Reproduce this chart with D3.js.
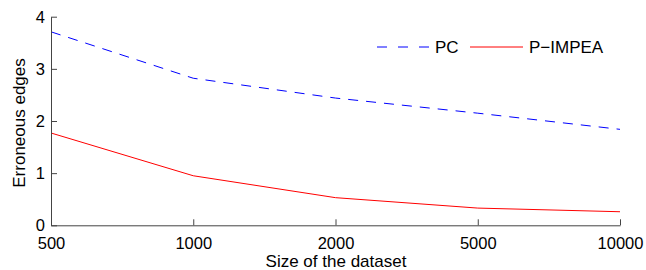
<!DOCTYPE html>
<html><head><meta charset="utf-8">
<script src="https://cdn.jsdelivr.net/npm/d3@7"></script>
<style>body{margin:0;background:#fff}svg{display:block}text{font-family:"Liberation Sans",Arial,sans-serif;fill:#000}</style>
</head><body><svg id="c" width="646" height="270"></svg>
<script>
const categories = ["500","1000","2000","5000","10000"];
const pcValues = [3.71, 2.82, 2.44, 2.15, 1.84];
const pimpeaValues = [1.77, 0.95, 0.53, 0.33, 0.26];
const yTicks = [0,1,2,3,4];
const seriesNames = ["PC","P\u2212IMPEA"];

const svg = d3.select("#c");
const m = {l:51, r:26, t:16.7, b:44.7};
const W = 646, H = 270;
const x = d3.scalePoint().domain(categories).range([m.l, W-m.r]);
const y = d3.scaleLinear().domain([0,4]).range([H-m.b, m.t]);
const axisColor = "#444";

const line = d3.line().x((d,i)=>x(categories[i])).y(d=>y(d));
svg.append("path").attr("d", line(pcValues)).attr("fill","none").attr("stroke","#0000ff").attr("stroke-width",1).attr("stroke-dasharray","10,8");
svg.append("path").attr("d", line(pimpeaValues)).attr("fill","none").attr("stroke","#ff0000").attr("stroke-width",1);

const gx = svg.append("g").attr("transform",`translate(0,${y(0)})`)
  .call(d3.axisBottom(x).tickSizeInner(-6).tickSizeOuter(0).tickPadding(12));
const gy = svg.append("g").attr("transform",`translate(${m.l},0)`)
  .call(d3.axisLeft(y).tickValues(yTicks).tickFormat(d3.format("d")).tickSizeInner(-6).tickSizeOuter(0).tickPadding(6));
[gx,gy].forEach(g=>{
  g.selectAll("path,line").attr("stroke",axisColor);
  g.selectAll("text").attr("font-size",16.5).attr("font-family","Liberation Sans, Arial, sans-serif").attr("fill","#000");
});
gx.selectAll("text").attr("dy","0.71em");
gy.selectAll("text").attr("dy","0.33em");

svg.append("text").attr("x", 336).attr("y",267).attr("text-anchor","middle").attr("font-size",17).text("Size of the dataset");
svg.append("text").attr("transform",`translate(25,123) rotate(-90)`).attr("text-anchor","middle").attr("font-size",17).text("Erroneous edges");

// legend
const ly = 47;
svg.append("line").attr("x1",377).attr("x2",430).attr("y1",ly).attr("y2",ly).attr("stroke","#0000ff").attr("stroke-dasharray","10,11");
svg.append("text").attr("x",435).attr("y",ly+6).attr("font-size",17).text(seriesNames[0]);
svg.append("line").attr("x1",470).attr("x2",523).attr("y1",ly).attr("y2",ly).attr("stroke","#ff0000");
svg.append("text").attr("x",529).attr("y",ly+6).attr("font-size",17).text(seriesNames[1]);
</script></body></html>
